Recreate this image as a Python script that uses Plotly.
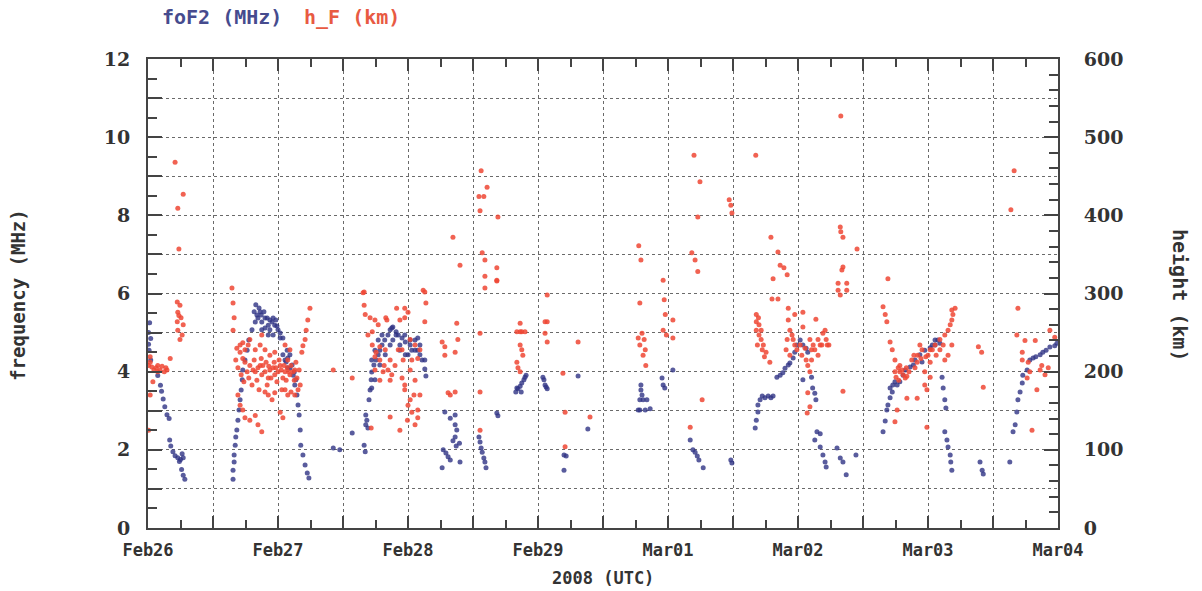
import pandas as pd
import plotly.graph_objects as go

start = pd.Timestamp("2008-02-26 00:00")
day_labels = ["Feb26", "Feb27", "Feb28", "Feb29", "Mar01", "Mar02", "Mar03", "Mar04"]
freq_ticks = [0, 2, 4, 6, 8, 10, 12]
height_ticks = [0, 100, 200, 300, 400, 500, 600]

# foF2 (MHz): (hours since 2008-02-26 00 UTC, value)
foF2_obs = [
    (0.3, 5.25), (0.5, 4.85), (0.2, 4.55), (0.5, 4.3), (0.1, 5.0), (0.1, 4.7),
    (1.8, 3.9), (2.3, 3.65), (2.5, 3.5), (2.8, 3.3),
    (3.1, 3.1), (3.5, 2.9), (3.9, 2.8), (4.0, 2.25), (4.2, 2.1), (4.6, 1.95), (5.0, 1.85), (5.5, 1.8),
    (6.0, 1.75), (6.5, 1.8), (6.2, 1.5), (6.5, 1.35), (6.8, 1.25), (5.8, 1.7), (6.3, 1.9),
    (15.7, 1.25), (15.7, 1.48), (15.9, 1.69), (15.9, 1.87), (16.1, 2.12), (16.2, 2.33), (16.4, 2.51),
    (16.6, 2.76), (16.8, 3.02), (17.0, 3.28), (17.2, 3.53), (17.4, 3.79), (17.5, 4.04), (17.9, 4.30),
    (18.3, 4.55), (18.6, 4.81), (19.2, 5.07), (19.8, 5.27), (20.1, 5.45), (20.5, 5.63), (20.7, 5.53),
    (21.0, 5.27), (21.6, 5.37), (22.2, 5.19), (22.5, 5.07), (22.9, 5.27), (23.4, 5.19), (24.0, 5.07),
    (24.4, 4.99), (24.9, 4.86), (21.6, 5.12), (23.1, 4.94), (23.6, 5.32), (21.0, 5.07),
    (19.6, 5.53), (19.9, 5.71), (20.3, 5.37), (20.9, 5.45), (21.4, 5.53), (22.0, 5.37), (22.5, 5.32),
    (23.1, 5.37), (23.8, 5.17), (24.4, 4.86), (22.2, 4.94),
    (24.9, 4.43), (25.5, 4.25), (26.2, 4.09), (27.0, 3.99), (27.3, 3.79), (25.8, 4.35),
    (25.7, 4.55), (26.2, 4.43), (26.6, 4.17), (26.8, 3.91), (27.1, 3.66), (27.5, 3.40), (27.7, 3.15),
    (27.9, 2.89), (28.1, 2.51), (28.2, 2.12), (28.6, 1.87), (29.0, 1.61), (29.4, 1.41), (29.7, 1.28),
    (25.3, 4.3), (25.8, 4.1),
    (34.2, 2.05), (35.4, 2.0), (37.7, 2.43), (39.9, 2.12), (40.1, 1.95),
    (40.2, 2.89), (40.4, 2.76), (40.6, 2.56), (40.2, 2.64), (40.8, 3.28), (41.0, 3.53), (41.2, 3.79),
    (41.3, 3.99), (41.7, 4.17), (42.1, 4.30), (42.5, 4.43), (42.8, 4.55), (43.2, 4.68), (43.7, 4.81),
    (44.3, 4.94), (44.7, 5.07), (45.2, 5.14), (45.8, 5.02), (46.2, 4.94), (46.9, 4.86), (47.5, 4.76),
    (48.4, 4.68), (49.3, 4.81), (49.8, 4.55), (50.2, 4.43), (50.6, 4.30), (51.1, 4.07), (51.3, 3.89),
    (46.5, 4.55), (47.5, 4.43), (48.7, 4.55),
    (41.9, 4.55), (42.5, 4.81), (43.2, 4.94), (41.3, 4.30), (42.8, 4.17), (43.8, 4.43), (44.7, 4.68),
    (45.2, 4.81), (41.9, 3.79), (41.3, 3.58), (46.5, 4.68), (47.4, 4.94), (48.4, 4.81), (49.3, 4.55),
    (50.2, 4.68), (48.0, 4.43), (49.8, 4.86), (51.1, 4.30), (45.0, 5.12), (45.8, 4.94),
    (54.8, 2.97), (55.8, 2.81), (56.7, 2.89), (56.7, 2.64), (57.0, 2.51), (56.7, 2.33), (56.3, 2.23),
    (56.9, 2.10), (57.5, 2.17), (54.5, 2.0), (55.0, 1.92), (55.4, 1.82), (55.8, 1.74), (54.3, 1.54),
    (57.6, 1.69),
    (61.1, 2.33), (61.3, 2.20), (61.5, 2.05), (61.7, 1.94), (62.0, 1.79), (62.2, 1.69), (62.4, 1.54),
    (64.4, 2.94), (64.6, 2.87),
    (67.9, 3.48), (68.3, 3.56), (68.7, 3.63), (69.0, 3.71), (69.4, 3.79), (69.6, 3.86), (69.8, 3.91),
    (68.1, 3.58), (68.9, 3.48),
    (72.9, 3.86), (73.1, 3.79), (73.5, 3.61), (73.7, 3.56), (73.3, 3.66),
    (79.4, 3.89), (81.2, 2.53), (76.8, 1.87), (77.2, 1.84), (76.8, 1.48),
    (90.5, 3.02), (90.8, 3.02), (91.8, 3.02), (92.7, 3.05), (90.8, 3.28), (91.0, 3.53), (91.0, 3.66),
    (91.2, 3.40), (91.4, 3.28), (92.1, 3.28),
    (94.9, 3.84), (95.1, 3.66), (95.4, 3.58), (96.9, 4.04),
    (100.1, 2.25), (100.6, 2.0), (101.0, 1.94), (101.4, 1.84), (101.7, 1.74), (102.5, 1.54),
    (107.6, 1.74), (107.8, 1.66),
    (112.1, 2.56), (112.3, 2.76), (112.6, 2.97), (112.6, 3.15), (113.0, 3.28), (113.4, 3.38),
    (113.9, 3.33), (114.5, 3.38), (115.0, 3.33), (115.4, 3.38), (116.1, 3.86), (116.7, 3.91),
    (117.2, 3.97), (117.6, 4.09), (118.2, 4.17), (118.5, 4.22), (119.1, 4.35), (119.4, 4.5),
    (119.8, 4.68), (120.4, 4.81), (120.9, 4.68), (121.5, 4.6), (121.8, 4.5),
    (120.9, 3.79), (122.5, 3.86), (122.7, 3.58), (123.1, 3.45), (123.3, 3.28), (123.5, 2.46),
    (124.1, 2.41), (123.1, 2.25), (124.1, 2.07), (124.6, 1.87), (125.0, 1.69), (125.2, 1.56),
    (127.2, 2.05), (127.8, 1.79), (128.3, 1.69), (128.9, 1.36), (130.7, 1.87),
    (135.7, 2.46), (136.1, 2.74), (136.4, 3.02), (136.6, 3.15), (137.0, 3.33), (137.4, 3.48),
    (137.0, 3.58), (137.5, 3.66), (137.9, 3.74), (138.3, 3.66), (138.8, 3.74), (139.8, 4.04),
    (140.7, 4.12), (141.6, 4.30), (142.5, 4.43), (143.4, 4.55), (144.4, 4.61), (145.3, 4.68),
    (145.8, 4.81), (146.2, 4.73), (139.4, 3.91), (141.3, 4.17), (142.9, 4.25),
    (145.3, 4.81), (144.8, 4.68),
    (146.6, 3.86), (146.8, 3.58), (147.1, 3.28), (147.3, 3.07), (147.1, 2.46), (147.5, 2.25),
    (147.7, 2.07), (148.1, 1.87), (148.2, 1.69), (148.4, 1.48),
    (153.6, 1.69), (154.0, 1.48), (154.2, 1.38), (159.1, 1.69),
    (159.7, 2.46), (160.1, 2.64), (160.4, 2.97), (160.6, 3.28), (161.0, 3.48), (161.4, 3.71),
    (161.5, 3.91), (162.3, 4.04), (162.8, 4.30), (163.4, 4.35), (163.9, 4.38), (164.7, 4.43),
    (165.2, 4.50), (165.8, 4.55), (166.5, 4.63), (167.4, 4.66), (167.8, 4.73),
]

# h_F (km): (hours since 2008-02-26 00 UTC, value)
hF_obs = [
    (5.0, 468), (6.5, 427), (5.5, 409), (5.7, 357), (5.4, 289), (5.9, 285), (5.5, 276), (6.1, 269),
    (5.4, 264), (6.5, 260), (5.5, 253), (6.3, 247), (5.9, 241), (5.7, 272), (4.1, 217), (0.1, 208),
    (0.7, 206), (1.5, 205), (2.2, 202), (3.0, 200), (3.5, 202), (0.9, 187), (0.1, 125), (0.4, 219),
    (0.4, 170), (1.8, 208), (0.4, 212), (1.1, 202), (1.8, 200), (2.6, 207), (3.3, 205),
    (15.5, 307), (15.7, 288), (15.7, 253), (15.9, 269),
    (16.4, 230), (17.0, 225), (17.5, 217), (17.9, 212), (18.5, 234), (18.8, 208), (19.4, 202),
    (19.8, 200), (20.3, 205), (20.7, 208), (21.0, 196), (21.6, 200), (22.2, 192), (22.5, 202),
    (23.1, 205), (23.4, 196), (24.0, 200), (24.4, 208), (24.9, 192), (25.3, 200), (25.7, 205),
    (26.2, 196), (26.8, 200), (27.1, 202), (27.5, 192),
    (16.2, 215), (16.6, 205), (17.2, 196), (17.7, 187), (18.3, 200), (18.6, 192), (19.2, 183),
    (19.6, 215), (20.1, 189), (20.5, 177), (20.9, 217), (21.2, 208), (21.8, 212), (22.0, 183),
    (22.3, 207), (22.7, 192), (23.3, 212), (23.6, 205), (23.8, 187), (24.2, 215), (24.6, 202),
    (24.7, 177), (25.1, 208), (25.5, 189), (25.8, 215), (26.0, 200), (26.4, 208), (27.0, 189),
    (27.3, 212), (27.9, 202), (28.1, 183), (17.9, 228), (17.0, 234),
    (16.6, 170), (17.0, 157), (17.5, 151), (17.9, 141), (18.8, 138), (19.8, 144), (20.3, 132),
    (21.0, 123), (21.6, 174), (22.2, 170), (22.9, 164), (23.4, 173), (24.4, 148), (24.9, 141),
    (25.3, 177), (25.8, 170), (26.4, 174), (27.1, 170), (27.7, 177),
    (17.5, 237), (18.8, 241), (19.8, 228), (20.7, 234), (21.6, 228), (22.5, 221), (23.4, 225),
    (21.0, 247), (25.3, 234), (26.2, 228),
    (29.9, 281), (29.5, 266), (29.2, 253), (29.0, 241), (28.6, 233), (28.4, 225),
    (34.2, 202), (37.7, 192),
    (39.9, 302), (39.9, 285), (41.0, 269), (41.9, 266), (42.5, 260), (43.9, 269),
    (40.6, 247), (41.4, 234), (42.1, 225), (42.8, 215), (43.6, 208), (44.3, 202), (45.0, 196),
    (44.7, 215), (43.8, 228), (41.9, 202), (42.8, 189), (41.2, 128), (44.7, 142),
    (41.4, 251), (44.1, 266), (45.9, 281), (42.8, 232), (41.9, 219), (43.4, 200), (44.7, 189),
    (45.6, 208), (46.2, 228), (47.1, 215), (48.4, 202), (49.3, 189), (50.2, 170), (49.8, 151),
    (47.9, 138), (50.8, 304), (40.1, 273), (39.7, 301),
    (46.5, 266), (47.4, 269), (48.4, 241), (49.3, 234), (47.4, 177), (48.4, 164), (48.7, 148),
    (49.3, 132), (49.8, 141), (48.0, 157), (49.1, 170), (47.4, 281), (48.0, 276), (46.9, 192),
    (47.4, 183), (46.5, 125), (50.2, 228), (49.8, 217), (46.9, 228), (48.7, 215),
    (51.1, 302), (51.3, 288), (51.1, 264),
    (54.3, 238), (54.8, 232), (54.8, 221), (56.7, 225), (57.2, 241), (55.8, 170), (55.4, 173),
    (56.7, 174), (57.0, 262),
    (61.3, 249), (61.3, 174), (61.3, 125), (62.2, 307), (64.4, 316),
    (68.1, 251), (68.7, 251), (69.0, 251), (69.6, 251), (68.7, 234), (69.0, 228), (69.2, 221),
    (68.1, 212), (68.3, 205), (68.7, 200), (68.7, 262),
    (73.3, 264), (73.7, 264), (73.3, 249), (73.7, 238), (73.7, 298),
    (79.4, 238), (76.6, 198), (77.0, 148), (77.0, 104), (81.6, 142),
    (90.8, 288), (91.2, 249), (91.6, 241), (91.8, 228), (91.4, 221), (90.5, 243), (91.9, 208),
    (90.8, 234),
    (95.1, 317), (95.3, 292), (95.5, 273), (95.7, 247), (95.1, 253), (96.9, 266), (96.9, 243),
    (100.1, 129), (102.3, 164),
    (61.5, 457), (62.6, 436), (61.1, 424), (62.0, 424), (61.3, 406), (64.6, 398), (56.3, 372),
    (57.6, 336), (61.7, 352), (62.2, 343), (62.2, 322), (64.4, 333), (64.4, 317),
    (90.6, 361), (91.0, 343), (100.8, 477), (101.9, 443), (101.5, 398), (100.4, 352), (101.0, 343),
    (101.5, 328),
    (107.3, 420), (107.6, 413), (107.8, 403), (112.2, 477), (115.0, 372), (116.3, 353), (116.7, 336),
    (117.4, 333), (118.0, 324), (115.4, 319), (127.9, 527), (127.8, 385), (127.9, 379), (128.3, 372),
    (130.9, 357), (128.1, 330), (128.3, 334), (127.4, 313), (129.0, 313), (136.6, 319), (159.9, 457),
    (159.3, 407),
    (115.2, 293), (116.3, 293), (118.2, 281), (119.4, 273), (120.9, 276), (127.4, 304), (129.0, 304),
    (127.8, 298), (123.3, 267),
    (112.3, 273), (112.8, 260), (112.3, 253), (112.8, 247), (113.2, 241), (112.5, 234), (113.4, 228),
    (113.8, 219), (114.8, 212), (112.3, 264), (113.2, 253), (112.7, 269), (113.6, 234), (114.1, 225),
    (118.2, 266), (118.5, 253), (119.1, 241), (119.4, 234), (118.5, 221), (120.4, 234), (117.8, 228),
    (120.9, 257), (122.2, 241), (123.1, 228), (124.1, 234), (124.6, 249), (125.0, 253), (123.7, 221),
    (122.5, 215), (121.8, 208), (121.3, 230), (122.2, 200), (124.4, 234), (125.4, 234),
    (118.9, 247), (119.8, 228), (120.7, 221), (121.5, 215), (122.8, 234), (123.7, 241), (125.2, 241),
    (125.7, 234), (122.5, 228), (118.0, 241),
    (121.7, 147), (122.2, 155), (121.8, 173), (128.3, 175),
    (135.7, 283), (136.1, 273), (136.4, 264), (137.0, 238), (137.4, 228), (137.9, 215), (138.5, 205),
    (138.8, 200), (139.4, 196), (139.8, 192), (140.1, 194), (137.9, 200), (138.8, 208), (138.3, 151),
    (137.9, 136), (140.1, 166), (142.0, 166), (141.0, 215), (142.1, 221), (142.9, 228), (143.6, 219),
    (144.4, 212), (141.6, 205), (143.4, 200), (142.5, 234), (144.4, 228), (143.4, 183), (143.8, 177),
    (144.4, 193), (143.8, 129),
    (138.1, 193), (138.6, 189), (139.2, 202), (140.0, 205), (140.5, 200), (141.4, 221), (142.0, 212),
    (142.7, 217), (144.0, 221), (144.8, 228), (145.5, 221), (146.2, 228), (146.8, 234),
    (145.3, 234), (146.2, 241), (147.1, 247), (147.7, 253), (148.1, 260), (148.4, 266), (148.6, 273),
    (149.0, 281), (148.4, 234), (147.7, 221), (147.1, 215), (148.4, 279),
    (153.3, 232), (153.9, 225), (154.2, 180),
    (160.6, 281), (160.4, 247), (161.9, 240), (163.8, 240), (161.4, 225), (161.4, 215), (162.5, 212),
    (162.8, 200), (162.3, 192), (164.1, 177), (163.2, 125), (164.7, 202), (165.6, 196), (166.2, 205),
    (166.5, 253), (167.4, 244), (165.0, 208),
]

BLUE = "#2f3384"
RED = "#ef4634"
TXT = "#333333"
AX = "#444444"


def to_time(hours):
    return [start + pd.Timedelta(hours=h) for h in hours]


f_t = to_time([p[0] for p in foF2_obs])
f_v = [p[1] for p in foF2_obs]
h_t = to_time([p[0] for p in hF_obs])
h_v = [p[1] for p in hF_obs]

fig = go.Figure()
fig.add_trace(go.Scatter(x=h_t, y=h_v, mode="markers", yaxis="y2", name="h_F (km)",
                         marker=dict(color=RED, size=5, opacity=0.85, line=dict(width=0))))
fig.add_trace(go.Scatter(x=f_t, y=f_v, mode="markers", yaxis="y", name="foF2 (MHz)",
                         marker=dict(color=BLUE, size=5, opacity=0.8, line=dict(width=0))))

half_days = [start + pd.Timedelta(hours=12 * i) for i in range(15)]
half_text = [day_labels[i // 2] if i % 2 == 0 else "" for i in range(15)]
quarter = [start + pd.Timedelta(hours=6 * i) for i in range(29) if i % 2 == 1]

tickfont_x = dict(family="DejaVu Sans Mono", size=17, color=TXT, weight="bold")
tickfont_y = dict(family="DejaVu Serif", size=19, color=TXT, weight="bold")

fig.update_layout(
    width=1202, height=591,
    margin=dict(l=148, r=144, t=59, b=63),
    paper_bgcolor="white", plot_bgcolor="white",
    showlegend=False,
    xaxis=dict(
        type="date", range=[start, start + pd.Timedelta(days=7)],
        tickmode="array", tickvals=half_days, ticktext=half_text,
        ticks="inside", ticklen=12, tickwidth=1.5, tickcolor=AX,
        showline=True, linecolor=AX, linewidth=2, mirror="ticks",
        showgrid=True, gridcolor="#6a6a6a", griddash="dot", gridwidth=1,
        minor=dict(tickvals=quarter, ticks="inside", ticklen=8, tickwidth=1.5,
                   tickcolor=AX, showgrid=False),
        tickfont=tickfont_x, ticklabelstandoff=6, zeroline=False,
    ),
    yaxis=dict(
        range=[0, 12], tickmode="array", tickvals=list(range(13)),
        ticktext=[str(v) if v in freq_ticks else "" for v in range(13)],
        ticks="inside", ticklen=14, tickwidth=1.5, tickcolor=AX,
        showline=True, linecolor=AX, linewidth=2,
        showgrid=True, gridcolor="#6a6a6a", griddash="dot", gridwidth=1,
        minor=dict(tickvals=[v + 0.5 for v in range(12)], ticks="inside", ticklen=9,
                   tickwidth=1.5, tickcolor=AX, showgrid=False),
        tickfont=tickfont_y, ticklabelstandoff=12, zeroline=False,
    ),
    yaxis2=dict(
        range=[0, 600], overlaying="y", side="right", anchor="x",
        tickmode="array", tickvals=height_ticks, ticktext=[str(v) for v in height_ticks],
        ticks="inside", ticklen=14, tickwidth=1.5, tickcolor=AX,
        showline=True, linecolor=AX, linewidth=2, showgrid=False,
        minor=dict(tickvals=[v for v in range(20, 600, 20) if v % 100 != 0], ticks="inside",
                   ticklen=9, tickwidth=1.5, tickcolor=AX, showgrid=False),
        tickfont=tickfont_y, ticklabelstandoff=20, zeroline=False,
    ),
    annotations=[
        dict(text="foF2 (MHz)", x=0.0132, y=1.0896, xref="paper", yref="paper",
             xanchor="left", yanchor="middle", showarrow=False,
             font=dict(family="DejaVu Sans Mono", size=20, color="#464b8e", weight="bold")),
        dict(text="h_F (km)", x=0.1692, y=1.0896, xref="paper", yref="paper",
             xanchor="left", yanchor="middle", showarrow=False,
             font=dict(family="DejaVu Sans Mono", size=20, color="#e85a42", weight="bold")),
        dict(text="frequency (MHz)", x=-0.1429, y=0.497, xref="paper", yref="paper",
             xanchor="center", yanchor="middle", textangle=-90, showarrow=False,
             font=dict(family="DejaVu Sans Mono", size=19, color=TXT, weight="bold")),
        dict(text="height (km)", x=1.134, y=0.497, xref="paper", yref="paper",
             xanchor="center", yanchor="middle", textangle=90, showarrow=False,
             font=dict(family="DejaVu Sans Mono", size=20, color=TXT, weight="bold")),
        dict(text="2008 (UTC)", x=0.5, y=-0.1066, xref="paper", yref="paper",
             xanchor="center", yanchor="middle", showarrow=False,
             font=dict(family="DejaVu Sans Mono", size=17, color=TXT, weight="bold")),
    ],
)

fig.write_html("out.html")
